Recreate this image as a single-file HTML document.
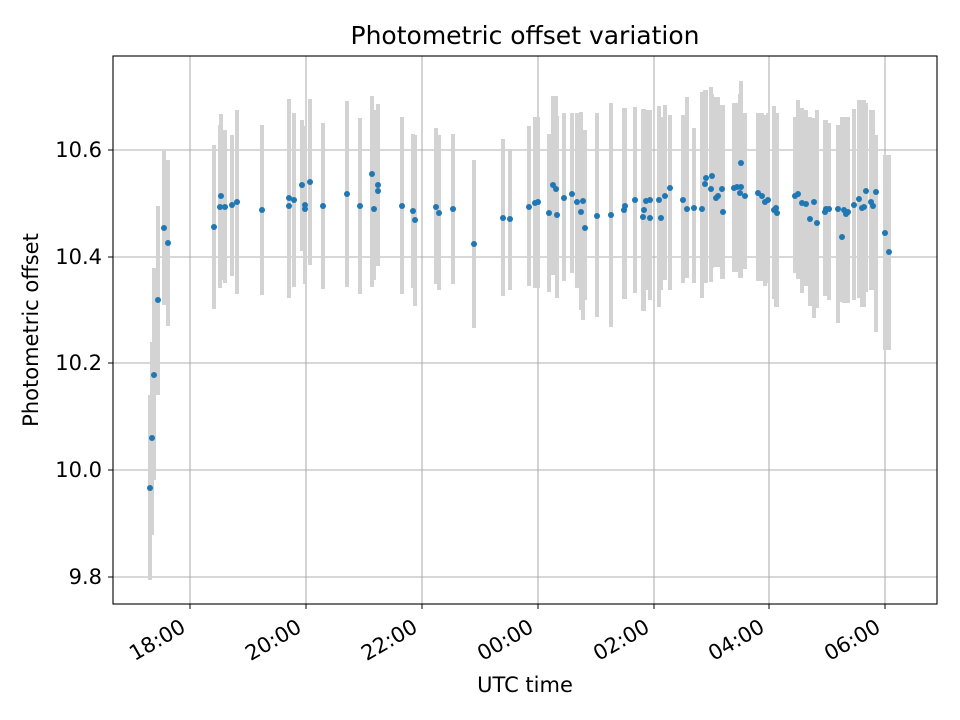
<!DOCTYPE html>
<html><head><meta charset="utf-8"><style>
body{margin:0;background:#fff}
svg{display:block;font-family:"DejaVu Sans","Liberation Sans",sans-serif}
</style></head><body>
<svg id="s" width="960" height="720" xmlns="http://www.w3.org/2000/svg">
<rect width="960" height="720" fill="#fff"/>
<g stroke="#b0b0b0" stroke-width="1.1">
<line x1="190" y1="56" x2="190" y2="604"/><line x1="306" y1="56" x2="306" y2="604"/>
<line x1="422" y1="56" x2="422" y2="604"/><line x1="538" y1="56" x2="538" y2="604"/>
<line x1="654" y1="56" x2="654" y2="604"/><line x1="769" y1="56" x2="769" y2="604"/>
<line x1="885" y1="56" x2="885" y2="604"/>
<line x1="113" y1="150" x2="937" y2="150"/><line x1="113" y1="257" x2="937" y2="257"/>
<line x1="113" y1="363" x2="937" y2="363"/><line x1="113" y1="470" x2="937" y2="470"/>
<line x1="113" y1="577" x2="937" y2="577"/>
</g>
<g id="bars" stroke="#d3d3d3" stroke-width="4"></g>
<g id="dots" fill="#1f77b4"></g>
<rect x="113" y="56" width="824" height="548" fill="none" stroke="#000" stroke-width="1.1"/>
<g stroke="#000" stroke-width="1">
<line x1="190" y1="604" x2="190" y2="609"/><line x1="306" y1="604" x2="306" y2="609"/>
<line x1="422" y1="604" x2="422" y2="609"/><line x1="538" y1="604" x2="538" y2="609"/>
<line x1="654" y1="604" x2="654" y2="609"/><line x1="769" y1="604" x2="769" y2="609"/>
<line x1="885" y1="604" x2="885" y2="609"/>
<line x1="108" y1="150" x2="113" y2="150"/><line x1="108" y1="257" x2="113" y2="257"/>
<line x1="108" y1="363" x2="113" y2="363"/><line x1="108" y1="470" x2="113" y2="470"/>
<line x1="108" y1="577" x2="113" y2="577"/>
</g>
<g font-size="21" text-anchor="end" fill="#000">
<text x="102" y="157">10.6</text><text x="102" y="264">10.4</text>
<text x="102" y="370">10.2</text><text x="102" y="477">10.0</text>
<text x="102" y="584">9.8</text>
<text transform="translate(187,631) rotate(-30)">18:00</text>
<text transform="translate(303,631) rotate(-30)">20:00</text>
<text transform="translate(419,631) rotate(-30)">22:00</text>
<text transform="translate(535,631) rotate(-30)">00:00</text>
<text transform="translate(651,631) rotate(-30)">02:00</text>
<text transform="translate(766,631) rotate(-30)">04:00</text>
<text transform="translate(882,631) rotate(-30)">06:00</text>
</g>
<text x="525" y="692" font-size="21" text-anchor="middle">UTC time</text>
<text transform="translate(38,330) rotate(-90)" font-size="21" text-anchor="middle">Photometric offset</text>
<text x="525" y="44" font-size="25" text-anchor="middle">Photometric offset variation</text>
</svg>
<script>
var d=[[150,488,395,580],[152,438,342,535],[154,375,268,480],[158,300,206,395],[164,228,151,305],[168,243,160,326],
[214,227,145,309],[220,207,125,288],[221,196,114,280],[225,207,130,283],[232,205,135,276],[237,202,110,294],
[262,210,125,295],[289,198,99,298],[289,206,130,290],[294,200,113,287],[302,185,120,251],[305,205,126,284],[305,209,126,284],
[310,182,99,265],[323,206,123,289],[347,194,101,287],[360,206,118,294],[372,174,96,287],[374,209,110,280],[378,185,104,266],[378,191,104,266],
[402,206,117,294],[413,211,134,288],[415,220,135,306],[436,207,128,284],[439,213,135,290],[453,209,134,284],[474,244,160,328],
[503,218,139,296],[510,219,149,290],[529,207,126,286],[535,203,117,288],[538,202,117,288],[549,213,134,292],[553,185,96,275],[556,189,96,275],
[557,215,116,298],[564,198,113,281],[572,194,113,273],[577,202,113,288],[581,212,112,310],[583,201,134,320],[585,228,130,300],
[597,216,113,317],[611,215,103,327],[624,210,108,299],[625,206,108,299],[635,200,107,293],[643,217,109,311],[644,210,109,311],
[646,201,110,290],[650,200,110,290],[650,218,120,300],[659,200,106,307],[661,218,117,290],[665,196,105,280],[670,188,115,290],
[683,200,115,283],[687,209,97,278],[694,208,128,283],[702,209,92,298],[705,184,90,283],[706,178,90,283],[711,189,87,282],
[712,176,94,268],[716,198,97,267],[718,196,97,267],[722,189,105,279],[723,212,105,279],[734,188,103,272],[737,187,103,272],
[740,193,94,278],[741,187,94,278],[741,163,81,243],[745,196,113,269],[758,193,113,281],[762,196,113,281],[765,202,115,286],
[768,200,113,283],[774,210,106,299],[776,208,113,307],[777,213,113,307],[795,196,117,273],[798,194,100,279],[802,203,108,293],
[806,204,110,286],[810,219,117,306],[814,202,118,318],[817,223,110,308],[825,212,120,296],[826,209,120,296],[829,209,123,300],
[838,209,125,323],[842,237,117,302],[844,210,117,303],[846,214,117,303],[848,212,117,303],[854,205,109,300],[859,199,100,298],
[862,208,100,307],[864,207,100,307],[866,191,103,292],[871,202,110,290],[873,206,110,290],[876,192,135,332],[885,233,155,350],[889,252,155,350]];
var ns="http://www.w3.org/2000/svg",b=document.getElementById("bars"),g=document.getElementById("dots");
d.forEach(function(p){var l=document.createElementNS(ns,"line");l.setAttribute("x1",p[0]);l.setAttribute("x2",p[0]);l.setAttribute("y1",p[2]);l.setAttribute("y2",p[3]);b.appendChild(l);
var c=document.createElementNS(ns,"circle");c.setAttribute("cx",p[0]);c.setAttribute("cy",p[1]);c.setAttribute("r",3);g.appendChild(c);});
</script>
</body></html>
